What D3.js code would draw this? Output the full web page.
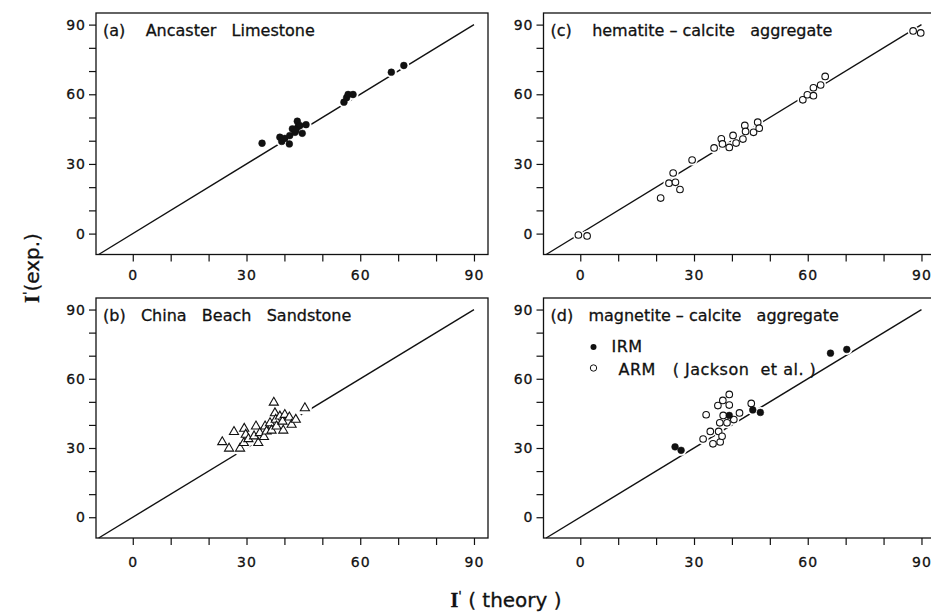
<!DOCTYPE html>
<html>
<head>
<meta charset="utf-8">
<script src="https://cdn.jsdelivr.net/npm/d3@7"></script>
<style>
  body { margin: 0; background: #fff; }
  text { font-family: "DejaVu Sans", sans-serif; fill: #111; stroke: #111; stroke-width: 0.3; }
  .tick line { stroke: #111; stroke-width: 1.2; }
  .tick text { font-size: 14px; letter-spacing: 1px; }
  .frame { fill: none; stroke: #111; stroke-width: 1.3; }
  .title { font-size: 16px; white-space: pre; }
  .legend { font-size: 16px; white-space: pre; letter-spacing: 0.5px; }
</style>
</head>
<body>
<svg width="931" height="613"></svg>
<script>
// tick values
const majorTicks = [0, 30, 60, 90];
const minorTicks = [0, 10, 20, 30, 40, 50, 60, 70, 80, 90];
const oneToOne = [-9, 90];

const titles = [
  "(a)    Ancaster   Limestone",
  "(b)   China   Beach   Sandstone",
  "(c)    hematite \u2013 calcite   aggregate",
  "(d)   magnetite \u2013 calcite   aggregate"
];

// (a) Ancaster Limestone  (filled dots)
const ancasterTheory = [34.1, 38.8, 39.3, 40.1, 41.3, 41.4, 42.1, 42.8, 43.4, 43.6, 44.1, 44.7, 45.7, 43.0, 55.7, 56.4, 56.8, 58.1, 68.2, 71.5];
const ancasterExp    = [38.9, 41.5, 39.7, 41.0, 38.6, 42.2, 45.1, 43.6, 48.4, 46.1, 46.5, 43.2, 46.9, 44.5, 56.6, 58.5, 59.9, 59.9, 69.5, 72.4];

// (b) China Beach Sandstone  (open triangles)
const chinaTheory = [37.2, 45.4, 26.7, 29.4, 32.5, 23.6, 25.4, 28.3, 29.3, 29.8, 30.5, 33.1, 32.0, 33.5, 34.6, 34.9, 35.3, 36.2, 36.6, 37.5, 37.7, 37.9, 38.8, 39.5, 39.7, 40.1, 41.3, 41.9, 43.0];
const chinaExp    = [49.7, 47.3, 37.0, 38.4, 39.4, 32.6, 29.8, 29.8, 32.2, 35.8, 33.9, 32.2, 35.1, 36.5, 34.8, 39.4, 37.2, 40.8, 37.6, 45.1, 42.3, 39.4, 43.7, 41.5, 37.6, 44.4, 43.3, 40.1, 42.3];

// (c) hematite - calcite aggregate  (open circles)
const hematiteTheory = [-0.5, 1.8, 21.2, 23.4, 24.5, 25.1, 26.3, 29.5, 35.3, 37.2, 37.5, 39.3, 40.3, 41.1, 42.9, 43.4, 43.6, 45.7, 46.8, 47.2, 58.7, 59.9, 61.5, 61.5, 63.4, 64.6, 87.8, 89.8];
const hematiteExp    = [-0.6, -1.0, 15.3, 21.7, 26.1, 22.1, 19.0, 31.7, 36.9, 40.8, 38.6, 37.1, 42.3, 39.0, 40.7, 46.6, 44.0, 43.6, 48.0, 45.4, 57.6, 59.8, 59.4, 62.8, 64.0, 67.7, 87.3, 86.4];

// (d) magnetite - calcite aggregate
const irmTheory = [25.0, 26.6, 39.3, 45.5, 47.5, 66.0, 70.3];
const irmExp    = [30.5, 29.0, 44.1, 46.5, 45.4, 71.1, 72.7];
const armTheory = [32.4, 33.2, 34.3, 35.0, 36.3, 36.5, 36.8, 36.9, 37.4, 37.6, 37.7, 38.7, 39.3, 39.3, 40.5, 42.0, 45.1];
const armExp    = [33.9, 44.4, 37.2, 31.8, 48.4, 37.2, 40.9, 32.6, 35.1, 50.6, 44.1, 40.9, 53.2, 48.6, 42.3, 45.2, 49.3];

const legendLabels = ["IRM", "ARM   ( Jackson  et al. )"];

const zip = (a, b) => a.map((v, i) => [v, b[i]]);

const svg = d3.select("svg");

const cols = [{ left: 96, width: 392 }, { left: 543.5, width: 392 }];
const rows = [{ top: 13, height: 241.5, labelY: 280 }, { top: 298, height: 240, labelY: 567 }];

const panels = [
  { col: 0, row: 0, title: titles[0], sets: [{ pts: zip(ancasterTheory, ancasterExp), shape: "dot" }] },
  { col: 0, row: 1, title: titles[1], sets: [{ pts: zip(chinaTheory, chinaExp), shape: "tri" }] },
  { col: 1, row: 0, title: titles[2], sets: [{ pts: zip(hematiteTheory, hematiteExp), shape: "ring" }] },
  { col: 1, row: 1, title: titles[3], sets: [
      { pts: zip(armTheory, armExp), shape: "ring" },
      { pts: zip(irmTheory, irmExp), shape: "dot" }
    ], legend: true }
];

const tri = d3.symbol(d3.symbolTriangle, 36);

panels.forEach(p => {
  const c = cols[p.col], r = rows[p.row];
  const x = d3.scaleLinear().domain([-9.7, 93.7]).range([c.left, c.left + c.width]);
  const y = d3.scaleLinear().domain([-9, 95]).range([r.top + r.height, r.top]);
  const g = svg.append("g");

  // y axis
  const ya = g.append("g")
    .attr("transform", `translate(${c.left},0)`)
    .call(d3.axisLeft(y).tickValues(minorTicks).tickSize(7).tickPadding(3)
      .tickFormat(d => majorTicks.includes(d) ? d : ""));
  ya.select(".domain").remove();

  // x axis
  const xa = g.append("g")
    .attr("transform", `translate(0,${r.top + r.height})`)
    .call(d3.axisBottom(x).tickValues(minorTicks).tickSize(7)
      .tickFormat(d => majorTicks.includes(d) ? d : ""));
  xa.select(".domain").remove();
  xa.selectAll("text").attr("y", r.labelY - r.top - r.height).attr("dy", 0);

  g.append("rect").attr("class", "frame")
    .attr("x", c.left).attr("y", r.top)
    .attr("width", c.width).attr("height", r.height);

  // 1:1 line
  g.append("path")
    .datum(oneToOne)
    .attr("fill", "none").attr("stroke", "#111").attr("stroke-width", 1.4)
    .attr("d", d3.line().x(d => x(d)).y(d => y(d)));

  // white halos cut the line under the markers
  p.sets.forEach(s => {
    g.append("g").selectAll("circle").data(s.pts).join("circle")
      .attr("cx", d => x(d[0])).attr("cy", d => y(d[1]))
      .attr("r", s.shape === "tri" ? 7 : 5.5).attr("fill", "#fff");
  });

  p.sets.forEach(s => {
    const m = g.append("g");
    if (s.shape === "tri") {
      m.selectAll("path").data(s.pts).join("path")
        .attr("transform", d => `translate(${x(d[0])},${y(d[1])})`)
        .attr("d", tri).attr("fill", "#fff").attr("stroke", "#111").attr("stroke-width", 1.1);
    } else {
      m.selectAll("circle").data(s.pts).join("circle")
        .attr("cx", d => x(d[0])).attr("cy", d => y(d[1]))
        .attr("r", s.shape === "dot" ? 3.4 : 3.3)
        .attr("fill", s.shape === "dot" ? "#111" : "#fff")
        .attr("stroke", "#111").attr("stroke-width", s.shape === "dot" ? 0.5 : 1.1);
    }
  });

  g.append("text").attr("class", "title")
    .attr("x", c.left + 7).attr("y", r.top + 23)
    .text(p.title);

  if (p.legend) {
    const lg = g.append("g");
    lg.append("circle").attr("cx", c.left + 50).attr("cy", r.top + 49).attr("r", 3)
      .attr("fill", "#111");
    lg.append("circle").attr("cx", c.left + 50).attr("cy", r.top + 70).attr("r", 3.2)
      .attr("fill", "#fff").attr("stroke", "#111").attr("stroke-width", 1);
    lg.append("text").attr("class", "legend").attr("x", c.left + 68).attr("y", r.top + 54).text(legendLabels[0]);
    lg.append("text").attr("class", "legend").attr("x", c.left + 75).attr("y", r.top + 77).text(legendLabels[1]);
  }
});

// axis titles
const yl = svg.append("text")
  .attr("transform", "translate(39,268) rotate(-90)")
  .attr("text-anchor", "middle")
  .style("font-size", "20px");
yl.append("tspan").style("font-family", "Liberation Serif").style("font-weight", "bold").text("I");
yl.append("tspan").attr("dy", -7).style("font-size", "13px").text("'");
yl.append("tspan").attr("dy", 7).text("(exp.)");

const xl = svg.append("text")
  .attr("x", 506).attr("y", 607)
  .attr("text-anchor", "middle")
  .style("font-size", "20px")
  .style("white-space", "pre");
xl.append("tspan").style("font-family", "Liberation Serif").style("font-weight", "bold").text("I");
xl.append("tspan").attr("dy", -7).style("font-size", "13px").text("'");
xl.append("tspan").attr("dy", 7).text(" ( theory )");
</script>
</body>
</html>
